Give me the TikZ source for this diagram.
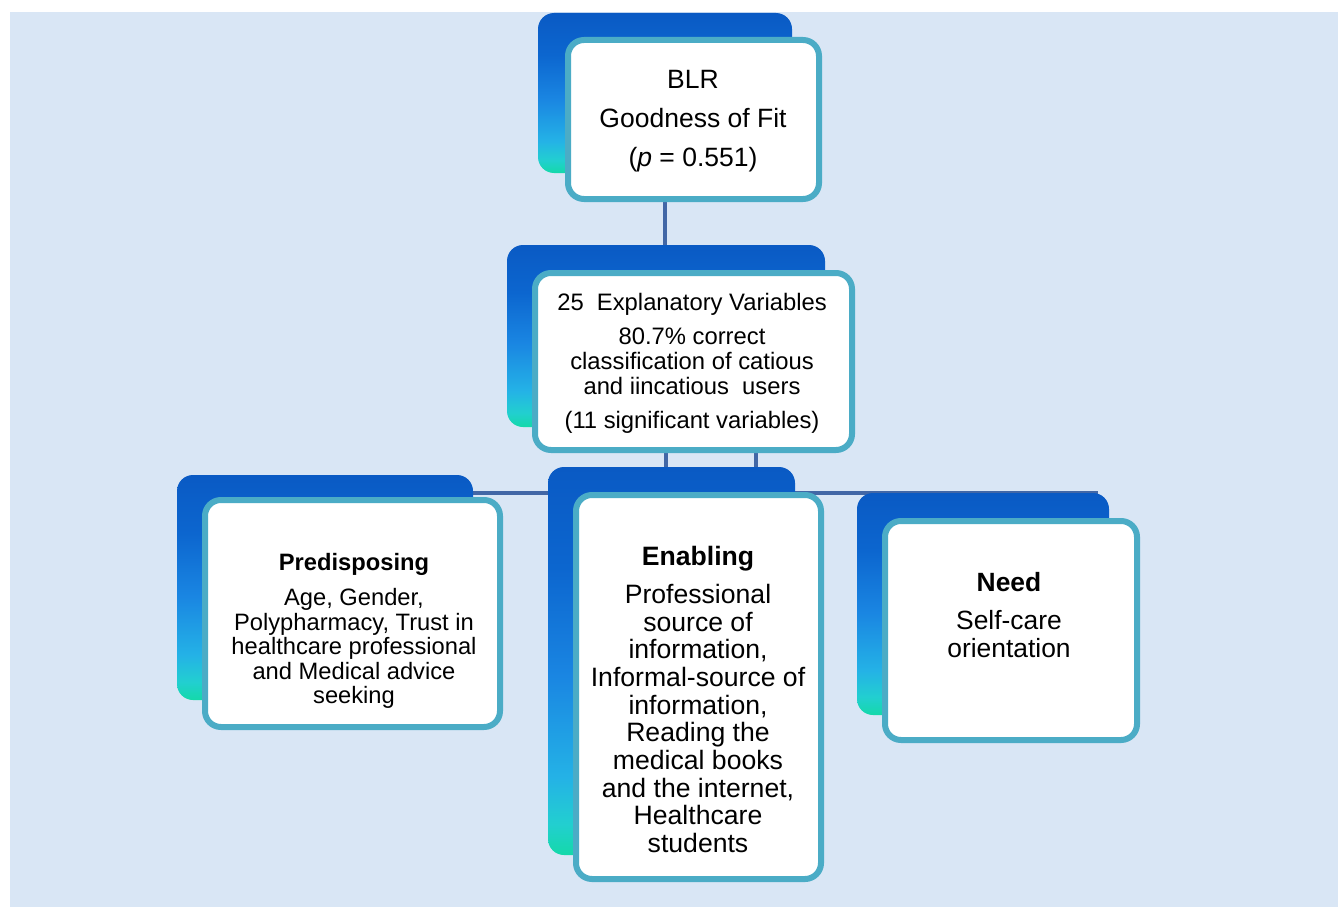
\documentclass[tikz,border=0pt]{standalone}
\usepackage{fontspec}
\setmainfont{Liberation Sans}
\usetikzlibrary{calc}

\definecolor{pagebg}{HTML}{D9E6F5}
\definecolor{frameteal}{HTML}{4BACC6}
\definecolor{linkblue}{HTML}{4267A6}
\definecolor{gA}{HTML}{14D9A9}
\definecolor{gB}{HTML}{22CFD0}
\definecolor{gC}{HTML}{24B2E6}
\definecolor{gD}{HTML}{1A86E2}
\definecolor{gE}{HTML}{0C66CF}
\definecolor{gF}{HTML}{0A5AC4}

% blue-to-teal fill of the cards behind the white panels
\pgfdeclareverticalshading{cardgrad}{100bp}{color(0bp)=(gA); color(25bp)=(gA); color(29bp)=(gB); color(35bp)=(gC); color(48bp)=(gD); color(62bp)=(gE); color(75bp)=(gF); color(100bp)=(gF)}

\pgfdeclarelayer{bg}
\pgfsetlayers{bg,main}

\begin{document}
\begin{tikzpicture}[x=1pt,y=-1pt,
  backcard/.style={rectangle, rounded corners=16pt, shading=cardgrad, inner sep=0pt, outer sep=0pt},
  frontcard/.style={rectangle, rounded corners=16pt, fill=white, draw=frameteal, line width=6pt, inner sep=0pt, outer sep=0pt},
  txt/.style={align=center, inner sep=0pt, text=black},
  bigtxt/.style={txt, font=\fontsize{26.5}{28}\selectfont},
  smalltxt/.style={txt, font=\fontsize{23.8}{25}\selectfont},
  link/.style={draw=linkblue, line width=4.5pt}]

\useasboundingbox (0,0) rectangle (1338,907);

% back cards
\node[backcard, minimum width=254pt, minimum height=160pt] (topback) at (665,93) {};
\node[backcard, minimum width=318pt, minimum height=182pt] (midback) at (666,336) {};
\node[backcard, minimum width=296pt, minimum height=225pt] (preback) at (325,587.5) {};
\node[backcard, minimum width=247pt, minimum height=388pt] (enback) at (671.5,661) {};
\node[backcard, minimum width=252pt, minimum height=222pt] (needback) at (983,604) {};

% white panels
\node[frontcard, minimum width=251pt, minimum height=159pt] (top) at (693.5,119.5) {};
\node[frontcard, minimum width=317pt, minimum height=177pt] (mid) at (693.5,361.5) {};
\node[frontcard, minimum width=295pt, minimum height=227pt] (pre) at (352.5,613.5) {};
\node[frontcard, minimum width=245pt, minimum height=384pt] (en) at (698.5,687) {};
\node[frontcard, minimum width=252pt, minimum height=219pt] (need) at (1011,630.5) {};

% panel texts
\node[bigtxt, font=\fontsize{26.5}{39}\selectfont] (toptext) at (693,121)
  {BLR\\Goodness of Fit\\(\textit{p} = 0.551)};
\node[smalltxt] (midtext) at (692,363)
  {25~ Explanatory Variables\\[9pt]80.7\% correct\\classification of catious\\and iincatious~ users\\[9pt](11 significant variables)};
\node[smalltxt, font=\fontsize{23.7}{24.5}\selectfont] (pretext) at (354,631)
  {\textbf{Predisposing}\\[10.5pt]Age, Gender,\\Polypharmacy, Trust in\\healthcare professional\\and Medical advice\\seeking};
\node[bigtxt, font=\fontsize{26.6}{27.7}\selectfont] (entext) at (698,699.5)
  {\textbf{Enabling}\\[10.3pt]Professional\\source of\\information,\\Informal-source of\\information,\\Reading the\\medical books\\and the internet,\\Healthcare\\students};
\node[bigtxt, font=\fontsize{26.4}{28}\selectfont] (needtext) at (1009,615)
  {\textbf{Need}\\[10pt]Self-care\\orientation};

% page background and connectors, behind the cards
\coordinate (barL) at (325,493);
\coordinate (barR) at (1098,493);
\coordinate (sidedrop) at (756,440);
\begin{pgfonlayer}{bg}
  \fill[white] (0,0) rectangle (1338,907);
  \fill[pagebg] (10,12) rectangle (1338,907);
  \draw[link] (topback.center) -- (topback.center |- midback.center);
  \draw[link] (midback.center) -- (midback.center |- barL);
  \draw[link] (sidedrop) -- (sidedrop |- barL);
  \draw[link] (barL) -- (barR);
\end{pgfonlayer}
\end{tikzpicture}
\end{document}
